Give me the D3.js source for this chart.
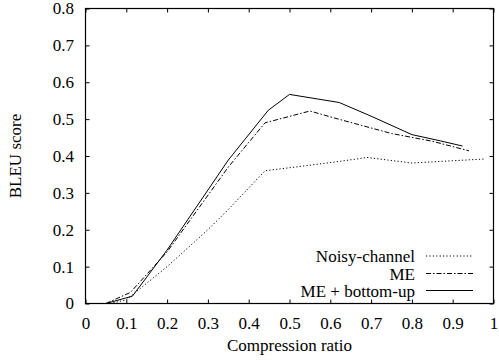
<!DOCTYPE html>
<html>
<head>
<meta charset="utf-8">
<script src="https://cdn.jsdelivr.net/npm/d3@7"></script>
<style>
  body { margin: 0; background: #fff; }
  svg { display: block; }
</style>
</head>
<body>
<svg id="chart" width="499" height="363"></svg>
<script>
// series
const noisyX = [0.06, 0.1, 0.2, 0.3, 0.35, 0.44, 0.55, 0.62, 0.69, 0.8, 0.98];
const noisyY = [0, 0.01, 0.1, 0.2, 0.255, 0.36, 0.375, 0.385, 0.396, 0.381, 0.392];
const meX = [0.05, 0.11, 0.2, 0.35, 0.44, 0.55, 0.62, 0.75, 0.85, 0.94];
const meY = [0, 0.03, 0.14, 0.37, 0.49, 0.522, 0.5, 0.461, 0.44, 0.414];
const buX = [0.05, 0.115, 0.2, 0.35, 0.448, 0.5, 0.622, 0.7, 0.8, 0.87, 0.924];
const buY = [0, 0.02, 0.145, 0.389, 0.524, 0.567, 0.545, 0.508, 0.458, 0.441, 0.427];
const seriesNames = ["Noisy-channel", "ME", "ME + bottom-up"];
const xTicks = [0, 0.1, 0.2, 0.3, 0.4, 0.5, 0.6, 0.7, 0.8, 0.9, 1];
const yTicks = [0, 0.1, 0.2, 0.3, 0.4, 0.5, 0.6, 0.7, 0.8];

const FONT = "Liberation Serif, DejaVu Serif, serif";
const FSIZE = "17px";
const DASHES = ["1.2,2.2", "5,2,1.5,2", null];

const svg = d3.select("#chart");
const M = { left: 85.5, right: 493.5, top: 8.5, bottom: 303.5 };

const x = d3.scaleLinear().domain([0, 1]).range([M.left, M.right]);
const y = d3.scaleLinear().domain([0, 0.8]).range([M.bottom, M.top]);

const fmt = d => d === 0 ? "0" : d === 1 ? "1" : d3.format(".1f")(d);

// axes with inward ticks, mirrored on top and right
const axB = svg.append("g").attr("transform", `translate(0,${M.bottom})`)
  .call(d3.axisBottom(x).tickValues(xTicks).tickFormat(fmt).tickSizeInner(-4).tickSizeOuter(0).tickPadding(13));
const axT = svg.append("g").attr("transform", `translate(0,${M.top})`)
  .call(d3.axisTop(x).tickValues(xTicks).tickFormat("").tickSizeInner(-4).tickSizeOuter(0));
const axL = svg.append("g").attr("transform", `translate(${M.left},0)`)
  .call(d3.axisLeft(y).tickValues(yTicks).tickFormat(fmt).tickSizeInner(-4).tickSizeOuter(0).tickPadding(11.5));
const axR = svg.append("g").attr("transform", `translate(${M.right},0)`)
  .call(d3.axisRight(y).tickValues(yTicks).tickFormat("").tickSizeInner(-4).tickSizeOuter(0));

[axB, axT, axL, axR].forEach(a => {
  a.select(".domain").remove();
  a.attr("font-family", FONT).attr("font-size", FSIZE);
  a.selectAll("line").attr("stroke", "#000");
  a.selectAll("text").attr("fill", "#000");
});

svg.append("rect")
  .attr("x", M.left).attr("y", M.top)
  .attr("width", M.right - M.left).attr("height", M.bottom - M.top)
  .attr("fill", "none").attr("stroke", "#000").attr("stroke-width", 1.2);

// axis titles
svg.append("text")
  .attr("x", x(0.5)).attr("y", 351)
  .attr("text-anchor", "middle")
  .attr("font-family", FONT).attr("font-size", FSIZE)
  .text("Compression ratio");

svg.append("text")
  .attr("transform", `translate(21,${y(0.4)}) rotate(-90)`)
  .attr("text-anchor", "middle")
  .attr("font-family", FONT).attr("font-size", FSIZE)
  .text("BLEU score");

// lines
const line = d3.line().x(d => x(d[0])).y(d => y(d[1]));
const series = [
  d3.zip(noisyX, noisyY),
  d3.zip(meX, meY),
  d3.zip(buX, buY)
];

svg.append("g").selectAll("path")
  .data(series)
  .join("path")
  .attr("d", line)
  .attr("fill", "none")
  .attr("stroke", "#000")
  .attr("stroke-width", 1)
  .attr("stroke-dasharray", (d, i) => DASHES[i]);

// legend
const lg = svg.append("g").attr("font-family", FONT).attr("font-size", FSIZE);
const rowY = [256, 273.5, 290.5];
seriesNames.forEach((name, i) => {
  lg.append("text")
    .attr("x", 415).attr("y", rowY[i] + 6)
    .attr("text-anchor", "end")
    .text(name);
  lg.append("line")
    .attr("x1", 426).attr("x2", 473)
    .attr("y1", rowY[i]).attr("y2", rowY[i])
    .attr("stroke", "#000").attr("stroke-width", 1)
    .attr("stroke-dasharray", DASHES[i]);
});
</script>
</body>
</html>
